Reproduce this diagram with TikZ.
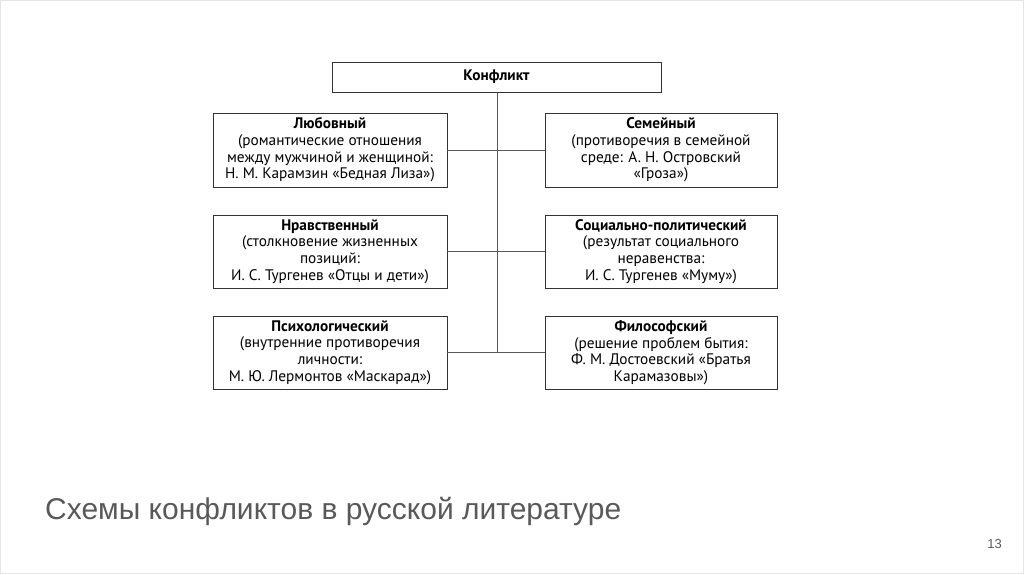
\documentclass[tikz,border=0pt]{standalone}
\usepackage{fontspec}
\setmainfont{PT Sans}
\newfontfamily\titlefont{Liberation Sans}
\begin{document}
\begin{tikzpicture}[x=1pt,y=-1pt,
  box/.style={draw=black!80,line width=0.9pt,fill=white,align=center,inner sep=0pt,font=\fontsize{15.3}{16.6}\selectfont},
  conn/.style={draw=black!65,line width=0.8pt}]
\useasboundingbox (0,0) rectangle (1024,574);
\draw[black!10,line width=0.8pt] (0.5,0.5) rectangle (1023.5,573.5);
\coordinate (vtop) at (497,92);
\coordinate (vbot) at (497,352);
\draw[conn] (vtop) -- (vbot);
\node[box,minimum width=329pt,minimum height=30pt] (root) at (496.5,77) {\textbf{Конфликт}};
\node[box,minimum width=234pt,minimum height=74pt] (l1) at (330,150) {\textbf{Любовный}\\(романтические отношения\\между мужчиной и женщиной:\\Н. М. Карамзин «Бедная Лиза»)};
\node[box,minimum width=232pt,minimum height=74pt] (r1) at (661,150) {\textbf{Семейный}\\(противоречия в семейной\\среде: А. Н. Островский\\«Гроза»)};
\node[box,minimum width=234pt,minimum height=73pt] (l2) at (330,251.5) {\textbf{Нравственный}\\(столкновение жизненных\\позиций:\\И. С. Тургенев «Отцы и дети»)};
\node[box,minimum width=232pt,minimum height=73pt] (r2) at (661,251.5) {\textbf{Социально-политический}\\(результат социального\\неравенства:\\И. С. Тургенев «Муму»)};
\node[box,minimum width=234pt,minimum height=73pt] (l3) at (330,352.5) {\textbf{Психологический}\\(внутренние противоречия\\личности:\\М. Ю. Лермонтов «Маскарад»)};
\node[box,minimum width=232pt,minimum height=73pt] (r3) at (661,352.5) {\textbf{Философский}\\(решение проблем бытия:\\Ф. М. Достоевский «Братья\\Карамазовы»)};
\draw[conn] (l1.east) -- (r1.west);
\draw[conn] (l2.east) -- (r2.west);
\draw[conn] (l3.east) -- (r3.west);
\node[anchor=base west,inner sep=0pt,text=black!65,font=\titlefont\fontsize{30}{32}\selectfont] (title) at (45,519) {Схемы конфликтов в русской литературе};
\node[anchor=base east,inner sep=0pt,text=black!65,font=\titlefont\fontsize{13}{14}\selectfont] (pg) at (1002,548) {13};
\end{tikzpicture}
\end{document}
